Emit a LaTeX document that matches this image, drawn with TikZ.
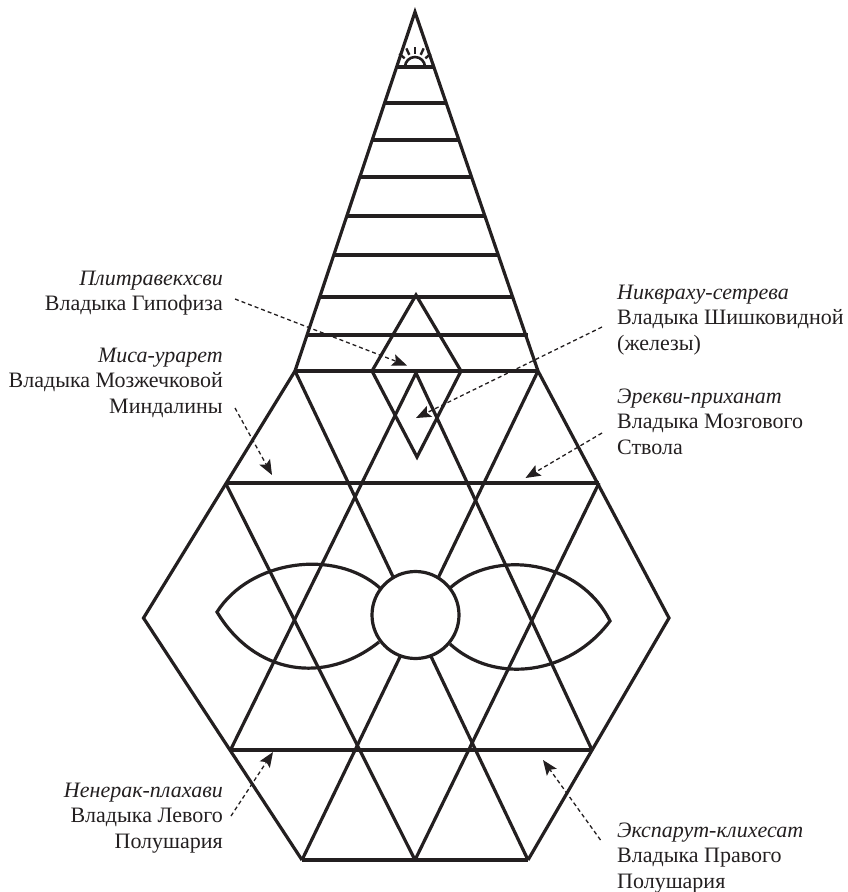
\documentclass[tikz,border=0pt]{standalone}
\usepackage{fontspec}
\setmainfont{Liberation Serif}
\usetikzlibrary{arrows.meta}
\definecolor{ink}{HTML}{231F20}
\newcommand{\fl}{\rule{0pt}{15pt}}
\tikzset{
  x=1pt,y=-1pt,
  heavy/.style={draw=ink,line width=3.2pt,line join=miter,miter limit=8},
  rung/.style={draw=ink,line width=3.8pt},
  thinray/.style={draw=ink,line width=2.4pt},
  leader/.style={draw=ink,line width=1.3pt,dash pattern=on 4pt off 3pt,
    -{Stealth[length=15pt,width=12pt,inset=3pt]}},
  lab/.style={inner sep=0pt,font=\fontsize{22}{25.5}\selectfont,align=right,anchor=north east,text=ink},
  labl/.style={inner sep=0pt,font=\fontsize{22}{25.5}\selectfont,align=left,anchor=north west,text=ink}
}
\begin{document}
\begin{tikzpicture}
\useasboundingbox (0,0) rectangle (847,892);
% key points
\coordinate (apex) at (415,12);
\coordinate (tl) at (295,371);
\coordinate (tr) at (538,371);
\coordinate (ml) at (225.5,483);
\coordinate (mr) at (599,483);
\coordinate (wl) at (143.5,618);
\coordinate (wr) at (669,618);
\coordinate (ll) at (230.5,750);
\coordinate (lr) at (592,750);
\coordinate (bl) at (302,860);
\coordinate (bc) at (415,860);
\coordinate (br) at (528,860);
\coordinate (inap) at (416,373);
\coordinate (dt) at (416,295);
\coordinate (dl) at (372,371);
\coordinate (dr) at (461,371);
\coordinate (db) at (417,457);
% spire
\draw[heavy] (tl) -- (apex) -- (tr);
\foreach \y/\a/\b in {67/397/434,103/385/446,140/372/459,177/360/471.5,216/347/485,255/334/498,297/320/512.5,335/307/528}{
  \draw[rung] (\a,\y) -- (\b,\y);
}
\draw[rung] (tl) -- (tr);
% sun
\draw[draw=ink,line width=2.6pt] (405,67) arc[start angle=180,end angle=360,radius=10];
\foreach \ang in {40,65,90,115,140}{
  \draw[thinray] (415,67) ++(-\ang:13.5) -- ++(-\ang:7);
}
% diamond
\draw[heavy] (dl) -- (dt) -- (dr) -- (db) -- cycle;
% hexagon
\draw[heavy] (tl) -- (wl) -- (bl);
\draw[heavy] (tr) -- (wr) -- (br);
\draw[rung] (bl) -- (br);
\draw[rung] (ml) -- (mr);
\draw[rung] (ll) -- (lr);
\draw[heavy] (tl) -- (br);
\draw[heavy] (tr) -- (bl);
\draw[heavy] (ml) -- (bc);
\draw[heavy] (mr) -- (bc);
\draw[heavy] (ll) -- (inap) -- (lr);
% eyes
\draw[heavy] (380,588) .. controls (335,548) and (250,560) .. (217,612) .. controls (255,675) and (325,685) .. (379,642);
\draw[heavy] (450,588) .. controls (495,548) and (580,560) .. (610,621) .. controls (570,675) and (495,685) .. (450,644);
% circle
\node[circle,draw=ink,line width=3.2pt,fill=white,minimum size=87pt,inner sep=0pt] (hub) at (415.5,615) {};
% labels
\node[lab] (a) at (223,270) {\fl\textit{Плитравекхсви}\\Владыка Гипофиза};
\node[labl] (b) at (617,284) {\fl\textit{Никвраху-сетрева}\\Владыка Шишковидной\\(железы)};
\node[lab] (c) at (223,347) {\fl\textit{Миса-урарет}\\Владыка Мозжечковой\\Миндалины};
\node[labl] (d) at (617,388) {\fl\textit{Эрекви-приханат}\\Владыка Мозгового\\Ствола};
\node[lab] (e) at (223,782) {\fl\textit{Ненерак-плахави}\\Владыка Левого\\Полушария};
\node[labl] (f) at (617,822) {\fl\textit{Экспарут-клихесат}\\Владыка Правого\\Полушария};
% leaders
\coordinate (as) at (235,299); \coordinate (at) at (407,365.5);
\coordinate (bs) at (602,327); \coordinate (bt) at (416,418);
\coordinate (cs) at (235,408); \coordinate (ct) at (272,475);
\coordinate (ds) at (602,433); \coordinate (dtip) at (525.5,478);
\coordinate (es) at (231,816); \coordinate (et) at (273,752);
\coordinate (fs) at (600.5,840); \coordinate (ft) at (543,760);
\draw[leader] (as) -- (at);
\draw[leader] (bs) -- (bt);
\draw[leader] (cs) -- (ct);
\draw[leader] (ds) -- (dtip);
\draw[leader] (es) -- (et);
\draw[leader] (fs) -- (ft);
\end{tikzpicture}
\end{document}
